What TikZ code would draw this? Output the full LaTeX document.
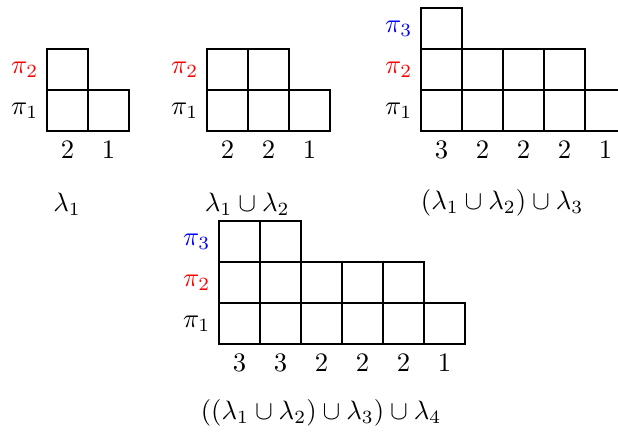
\documentclass[tikz,border=0pt]{standalone}
\usepackage{xcolor}
\usetikzlibrary{positioning}
\newlength{\cellsz}
\setlength{\cellsz}{15.375pt}

\begin{document}
\begin{tikzpicture}[x=\cellsz, y=\cellsz,
  rowlbl/.style={anchor=east, inner sep=0pt},
  colnum/.style={inner sep=0pt}]
  \useasboundingbox (0,0) rectangle (15.073,10.537);

  % first: lambda_1
  \begin{scope}[shift={(1.146,7.341)}]
    \foreach \x in {0,1} \draw (\x,0) rectangle ++(1,1);
    \draw (0,1) rectangle ++(1,1);
    \node[rowlbl] (ap1) at (-0.2,0.5) {$\pi_1$};
    \node[rowlbl, red] (ap2) at (-0.2,1.5) {$\pi_2$};
    \foreach \n [count=\i] in {2,1}
      \node[colnum] (an\i) at (\i-0.5,-0.47) {$\n$};
    \node (acap) at (0.49,-1.78) {$\lambda_1$};
  \end{scope}

  % second: lambda_1 u lambda_2
  \begin{scope}[shift={(5.049,7.341)}]
    \foreach \x in {0,1,2} \draw (\x,0) rectangle ++(1,1);
    \foreach \x in {0,1} \draw (\x,1) rectangle ++(1,1);
    \node[rowlbl] (bp1) at (-0.2,0.5) {$\pi_1$};
    \node[rowlbl, red] (bp2) at (-0.2,1.5) {$\pi_2$};
    \foreach \n [count=\i] in {2,2,1}
      \node[colnum] (bn\i) at (\i-0.5,-0.47) {$\n$};
    \node (bcap) at (0.98,-1.78) {$\lambda_1 \cup \lambda_2$};
  \end{scope}

  % third: (lambda_1 u lambda_2) u lambda_3
  \begin{scope}[shift={(10.268,7.341)}]
    \foreach \x in {0,...,4} \draw (\x,0) rectangle ++(1,1);
    \foreach \x in {0,...,3} \draw (\x,1) rectangle ++(1,1);
    \draw (0,2) rectangle ++(1,1);
    \node[rowlbl] (cp1) at (-0.2,0.5) {$\pi_1$};
    \node[rowlbl, red] (cp2) at (-0.2,1.5) {$\pi_2$};
    \node[rowlbl, blue] (cp3) at (-0.2,2.5) {$\pi_3$};
    \foreach \n [count=\i] in {3,2,2,2,1}
      \node[colnum] (cn\i) at (\i-0.5,-0.47) {$\n$};
    \node (ccap) at (1.98,-1.74) {$(\lambda_1 \cup \lambda_2) \cup \lambda_3$};
  \end{scope}

  % fourth: ((lambda_1 u lambda_2) u lambda_3) u lambda_4
  \begin{scope}[shift={(5.341,2.146)}]
    \foreach \x in {0,...,5} \draw (\x,0) rectangle ++(1,1);
    \foreach \x in {0,...,4} \draw (\x,1) rectangle ++(1,1);
    \foreach \x in {0,1} \draw (\x,2) rectangle ++(1,1);
    \node[rowlbl] (dp1) at (-0.2,0.5) {$\pi_1$};
    \node[rowlbl, red] (dp2) at (-0.2,1.5) {$\pi_2$};
    \node[rowlbl, blue] (dp3) at (-0.2,2.5) {$\pi_3$};
    \foreach \n [count=\i] in {3,3,2,2,2,1}
      \node[colnum] (dn\i) at (\i-0.5,-0.47) {$\n$};
    \node (dcap) at (2.49,-1.68) {$((\lambda_1 \cup \lambda_2) \cup \lambda_3) \cup \lambda_4$};
  \end{scope}
\end{tikzpicture}
\end{document}
